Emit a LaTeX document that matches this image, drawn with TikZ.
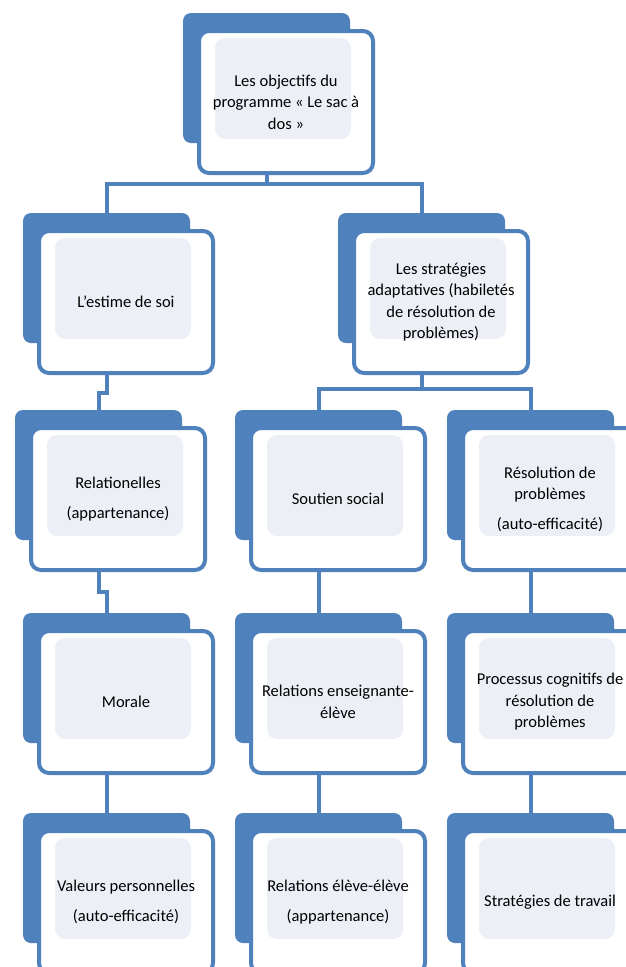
\documentclass[tikz,border=0pt]{standalone}
\usepackage{fontspec}
\setmainfont{Carlito}
\definecolor{offblue}{RGB}{79,129,189}
\definecolor{paleblue}{RGB}{236,240,246}
\tikzset{
  backbox/.style={fill=offblue, draw=none, rounded corners=8pt, minimum width=167pt, minimum height=130pt, inner sep=0pt},
  frontbox/.style={fill=white, draw=offblue, line width=4pt, rounded corners=10pt, minimum width=174pt, minimum height=142pt, inner sep=0pt, align=center,
    font=\fontsize{16.5}{21.5}\selectfont, text=black,
    path picture={\fill[paleblue] ([shift={(16pt,-7pt)}]path picture bounding box.north west) rectangle ([shift={(-22pt,34pt)}]path picture bounding box.south east);}},
  conn/.style={draw=offblue, line width=4pt}
}
\newcommand\skbox[4]{%
  \node[backbox] (#1b) at ({#2+83.5},{#3+65}) {};
  \node[frontbox] (#1f) at ({#2+103},{#3+89}) {#4};
}
\begin{document}
\begin{tikzpicture}[x=1pt,y=-1pt]
\clip (0,0) rectangle (626,967);
\fill[white] (0,0) rectangle (626,967);
% boxes
\skbox{top}{183}{13}{Les objectifs du\\programme « Le sac à\\dos »}
\skbox{est}{23}{213}{L’estime de soi}
\skbox{str}{338}{213}{Les stratégies\\adaptatives (habiletés\\de résolution de\\problèmes)}
\skbox{rel}{15}{410}{Relationelles\\[8pt](appartenance)}
\skbox{sou}{235}{410}{Soutien social}
\skbox{res}{447}{410}{Résolution de\\problèmes\\[8pt](auto-efficacité)}
\skbox{mor}{23}{613}{Morale}
\skbox{ens}{235}{613}{Relations enseignante-\\élève}
\skbox{pro}{447}{613}{Processus cognitifs de\\résolution de\\problèmes}
\skbox{val}{23}{813}{Valeurs personnelles\\[8pt](auto-efficacité)}
\skbox{ele}{235}{813}{Relations élève-élève\\[8pt](appartenance)}
\skbox{tra}{447}{813}{Stratégies de travail}
% connectors
\draw[conn] (topf.south -| topb.center) -- ++(0,9) -| (estb.north);
\draw[conn] (topf.south -| topb.center) -- ++(0,9) -| (strb.north);
\draw[conn] (estf.south -| estb.center) -- ++(0,18) -| (relb.north);
\draw[conn] (strf.south -| strb.center) -- ++(0,14) -| (soub.north);
\draw[conn] (strf.south -| strb.center) -- ++(0,14) -| (resb.north);
\draw[conn] (relf.south -| relb.center) -- ++(0,20) -| (morb.north);
\draw[conn] (souf.south -| soub.center) -- (ensb.north);
\draw[conn] (resf.south -| resb.center) -- (prob.north);
\draw[conn] (morf.south -| morb.center) -- (valb.north);
\draw[conn] (ensf.south -| ensb.center) -- (eleb.north);
\draw[conn] (prof.south -| prob.center) -- (trab.north);
\end{tikzpicture}
\end{document}
